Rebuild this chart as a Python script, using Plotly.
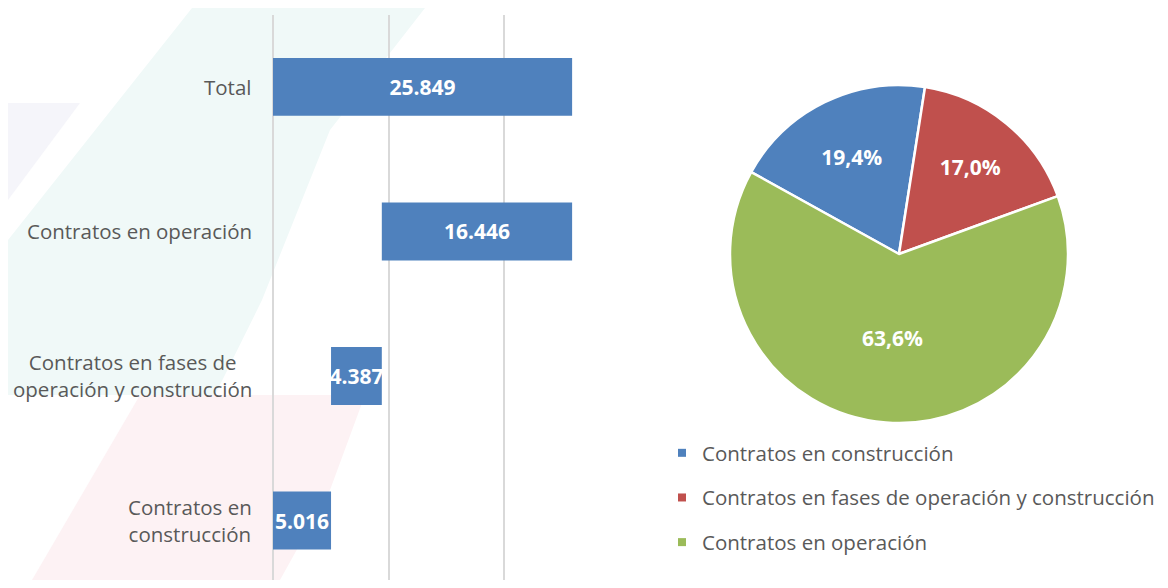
import plotly.graph_objects as go

# ---------------- data ----------------
bar_categories = [
    "Contratos en construcción",
    "Contratos en fases de operación y construcción",
    "Contratos en operación",
    "Total",
]
bar_label_text = [
    "Contratos en<br>construcción",
    "Contratos en fases de<br>operación y construcción",
    "Contratos en operación",
    "Total",
]
bar_values = [5016, 4387, 16446, 25849]
bar_measures = ["relative", "relative", "relative", "total"]

pie_labels = [
    "Contratos en construcción",
    "Contratos en fases de operación y construcción",
    "Contratos en operación",
]
pie_values = [5016, 4387, 16446]
pie_colors = ["#4F81BD", "#C0504D", "#9BBB59"]

# page body has an 8px margin; figure sized so the page does not overflow
OFF = 8
W, H = 1152, 572
FONT = "Open Sans"
GRAY = "#595959"


def px(x):
    return (x - OFF) / W


def py(y):
    return 1 - (y - OFF) / H


def fmt(v):
    return f"{v:,}".replace(",", ".")


fig = go.Figure()

fig.add_trace(go.Waterfall(
    orientation="h",
    y=bar_categories,
    x=bar_values,
    measure=bar_measures,
    text=[fmt(v) for v in bar_values],
    textposition="inside",
    insidetextanchor="middle",
    constraintext="none",
    textangle=0,
    textfont=dict(family=FONT, size=21, color="white", weight="bold"),
    increasing=dict(marker=dict(color="#4F81BD")),
    decreasing=dict(marker=dict(color="#4F81BD")),
    totals=dict(marker=dict(color="#4F81BD")),
    connector=dict(visible=False),
    width=0.40,
    showlegend=False,
    xaxis="x", yaxis="y",
))

fig.add_trace(go.Pie(
    labels=pie_labels,
    values=pie_values,
    sort=False,
    direction="clockwise",
    rotation=-61,
    marker=dict(colors=pie_colors, line=dict(color="white", width=2.5)),
    texttemplate="%{percent:.1%}",
    textposition="inside",
    insidetextorientation="horizontal",
    textfont=dict(family=FONT, size=21, color="white", weight="bold"),
    domain=dict(x=[px(899 - 169), px(899 + 169)], y=[py(254 + 169), py(254 - 169)]),
    showlegend=False,
    hoverinfo="label+value+percent",
))

# legend entries (one group each so the rows can be spaced like the original)
for lab, col in zip(pie_labels, pie_colors):
    fig.add_trace(go.Scatter(
        x=[None], y=[None], mode="markers", name=lab,
        marker=dict(symbol="square", size=8, color=col),
        legendgroup=lab, showlegend=True, xaxis="x", yaxis="y",
    ))

# category labels (centered multi-line, right-anchored like the original)
annotations = []
for cat, lab in zip(bar_categories, bar_label_text):
    annotations.append(dict(
        x=px(254), xref="paper", xanchor="right",
        y=cat, yref="y", yanchor="middle",
        text=lab, showarrow=False, align="center",
        font=dict(family=FONT, size=20.5, color=GRAY),
    ))


# faint background decoration
def path(pts):
    return "M " + " L ".join(f"{px(a)},{py(b)}" for a, b in pts) + " Z"


shapes = [
    dict(type="path", xref="paper", yref="paper", layer="below", line=dict(width=0),
         fillcolor="#F0F9F8",
         path=path([(192, 8), (425, 8), (330, 130), (262, 300), (215, 395), (8, 395), (8, 240)])),
    dict(type="path", xref="paper", yref="paper", layer="below", line=dict(width=0),
         fillcolor="#F5F5FA",
         path=path([(8, 103), (80, 103), (8, 200)])),
    dict(type="path", xref="paper", yref="paper", layer="below", line=dict(width=0),
         fillcolor="#FDF2F4",
         path=path([(135, 395), (365, 395), (330, 490), (280, 580), (25, 580)])),
    dict(type="path", xref="paper", yref="paper", layer="below", line=dict(width=0),
         fillcolor="#FFFFFF",
         path=path([(118, 401), (140, 395), (32, 580), (8, 580), (8, 570)])),
]

fig.update_layout(
    width=W, height=H,
    margin=dict(l=0, r=0, t=0, b=0),
    paper_bgcolor="white",
    plot_bgcolor="rgba(0,0,0,0)",
    separators=",.",
    font=dict(family=FONT, color=GRAY),
    xaxis=dict(
        domain=[px(273), px(597)],
        range=[0, 28000],
        dtick=10000, tick0=0,
        showgrid=True, gridcolor="#D9D9D9", gridwidth=1.5,
        zeroline=True, zerolinecolor="#D9D9D9", zerolinewidth=1.5,
        showticklabels=False, ticks="",
        showline=False, fixedrange=True,
    ),
    yaxis=dict(
        domain=[0, py(15)],
        type="category",
        categoryorder="array", categoryarray=bar_categories,
        range=[-0.467 + 8 / 144.5, 3.498],
        showgrid=False, zeroline=False, showticklabels=False, ticks="",
        showline=False, fixedrange=True,
    ),
    legend=dict(
        x=px(662), xanchor="left",
        y=py(433), yanchor="top",
        traceorder="grouped",
        tracegroupgap=15,
        font=dict(family=FONT, size=20.5, color=GRAY),
        bgcolor="rgba(0,0,0,0)",
        itemclick=False, itemdoubleclick=False,
    ),
    annotations=annotations,
    shapes=shapes,
)

fig.write_html("out.html")
